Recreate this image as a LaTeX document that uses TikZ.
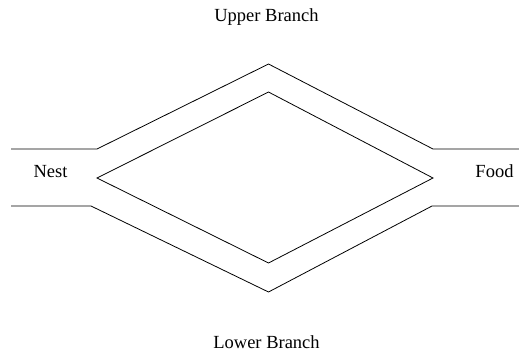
\documentclass[tikz,border=0pt]{standalone}
\usepackage{fontspec}
\setmainfont{Liberation Serif}
\begin{document}
\begin{tikzpicture}[x=1bp,y=-1bp,
  wall/.style={draw=black,line width=0.8bp,line join=miter},
  lbl/.style={font=\fontsize{18.5bp}{22bp}\selectfont,inner sep=0pt,anchor=base}]
\useasboundingbox (0,0) rectangle (519,352);
% outer upper wall
\coordinate (ul0) at (11,149);
\coordinate (ul1) at (97,149);
\coordinate (ut) at (268.5,64);
\coordinate (ur1) at (433,149);
\coordinate (ur0) at (519,149);
\draw[wall] (ul0) -- (ul1) -- (ut) -- (ur1) -- (ur0);
% outer lower wall
\coordinate (ll0) at (11,206);
\coordinate (ll1) at (91,206);
\coordinate (lb) at (268.5,292);
\coordinate (lr1) at (432,206);
\coordinate (lr0) at (519,206);
\draw[wall] (ll0) -- (ll1) -- (lb) -- (lr1) -- (lr0);
% inner diamond
\coordinate (il) at (97,178);
\coordinate (it) at (268.5,92);
\coordinate (ir) at (433,178);
\coordinate (ib) at (268.5,263);
\draw[wall] (il) -- (it) -- (ir) -- (ib) -- cycle;
% labels
\node[lbl] (upper) at (266.5,21) {Upper Branch};
\node[lbl] (lower) at (266.5,348) {Lower Branch};
\node[lbl] (nest) at (50.5,177) {Nest};
\node[lbl] (food) at (494.5,177) {Food};
\end{tikzpicture}
\end{document}
